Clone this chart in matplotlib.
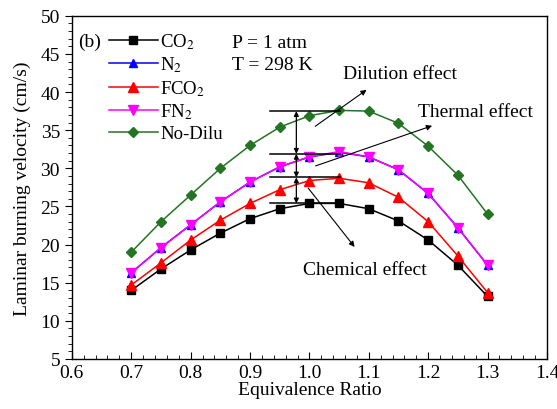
import matplotlib
matplotlib.use('Agg')
import matplotlib.pyplot as plt

plt.rcParams['font.family'] = ['Liberation Serif', 'DejaVu Serif']
plt.rcParams['mathtext.fontset'] = 'stix'

phi = [0.70, 0.75, 0.80, 0.85, 0.90, 0.95, 1.00, 1.05, 1.10, 1.15, 1.20, 1.25, 1.30]
SL_CO2 = [14.0, 16.8, 19.3, 21.5, 23.4, 24.7, 25.4, 25.4, 24.7, 23.1, 20.6, 17.3, 13.2]
SL_N2 = [16.3, 19.6, 22.6, 25.6, 28.2, 30.2, 31.5, 32.1, 31.5, 29.8, 26.7, 22.2, 17.3]
SL_FCO2 = [14.7, 17.6, 20.6, 23.2, 25.4, 27.2, 28.4, 28.7, 28.1, 26.2, 23.0, 18.5, 13.7]
SL_FN2 = [16.3, 19.6, 22.6, 25.6, 28.2, 30.2, 31.5, 32.2, 31.5, 29.8, 26.7, 22.2, 17.3]
SL_NoDilu = [19.0, 23.0, 26.5, 30.0, 33.0, 35.4, 36.9, 37.6, 37.5, 35.9, 32.9, 29.1, 24.0]

# peak levels used for the effect bars
levels = [37.5, 31.9, 28.8, 25.4]

fig = plt.figure(figsize=(5.57, 4.10), dpi=100)
ax = fig.add_axes([0.129, 0.122, 0.853, 0.837])

ax.plot(phi, SL_CO2, color='black', marker='s', ms=5.5, lw=1.1, label='CO$_2$')
ax.plot(phi, SL_N2, color='blue', marker='^', ms=6, lw=1.1, label='N$_2$')
ax.plot(phi, SL_FCO2, color='red', marker='^', ms=6.5, lw=1.1, label='FCO$_2$')
ax.plot(phi, SL_FN2, color='magenta', marker='v', ms=6.5, lw=1.1, label='FN$_2$')
ax.plot(phi, SL_NoDilu, color='#237523', marker='D', ms=5, lw=1.1, label='No-Dilu')

# effect bars
for lv in levels:
    ax.plot([0.933, 1.051], [lv, lv], color='black', lw=1.1)
for a, b in zip(levels[:-1], levels[1:]):
    ax.annotate('', xy=(0.978, b), xytext=(0.978, a),
                arrowprops=dict(arrowstyle='<|-|>', color='black', lw=0.9,
                                mutation_scale=7, shrinkA=0, shrinkB=0))

arr = dict(arrowstyle='-|>', color='black', lw=0.8, mutation_scale=8)
ax.annotate('', xy=(1.100, 40.5), xytext=(1.006, 35.3), arrowprops=arr)
ax.annotate('', xy=(1.211, 35.7), xytext=(1.006, 30.2), arrowprops=arr)
ax.annotate('', xy=(1.079, 19.4), xytext=(0.995, 27.7), arrowprops=arr)
ax.text(1.152, 42.4, 'Dilution effect', fontsize=14, ha='center', va='center')
ax.text(1.280, 37.4, 'Thermal effect', fontsize=14, ha='center', va='center')
ax.text(1.093, 16.7, 'Chemical effect', fontsize=14, ha='center', va='center')

ax.text(0.610, 46.7, '(b)', fontsize=14, ha='left', va='center')
ax.text(0.869, 46.5, 'P = 1 atm', fontsize=14, ha='left', va='center')
ax.text(0.869, 43.6, 'T = 298 K', fontsize=14, ha='left', va='center')

ax.legend(loc='upper left', bbox_to_anchor=(0.078, 0.955), frameon=False,
          fontsize=13.5, handlelength=2.6, handletextpad=0.15, labelspacing=0.2,
          borderaxespad=0, borderpad=0)

ax.set_xlim(0.6, 1.4)
ax.set_ylim(5, 50)
ax.set_xticks([0.6, 0.7, 0.8, 0.9, 1.0, 1.1, 1.2, 1.3, 1.4])
ax.set_yticks([5, 10, 15, 20, 25, 30, 35, 40, 45, 50])
ax.minorticks_on()
ax.tick_params(which='both', labelsize=14)
ax.tick_params(axis='x', which='both', direction='in')
ax.tick_params(axis='y', which='both', direction='out')
ax.tick_params(which='major', length=5)
ax.tick_params(which='minor', length=3)
ax.set_xlabel('Equivalence Ratio', fontsize=14, labelpad=0)
ax.set_ylabel('Laminar burning velocity (cm/s)', fontsize=14, labelpad=7)
for s in ax.spines.values():
    s.set_linewidth(1.0)

fig.savefig('out.png', dpi=100)
